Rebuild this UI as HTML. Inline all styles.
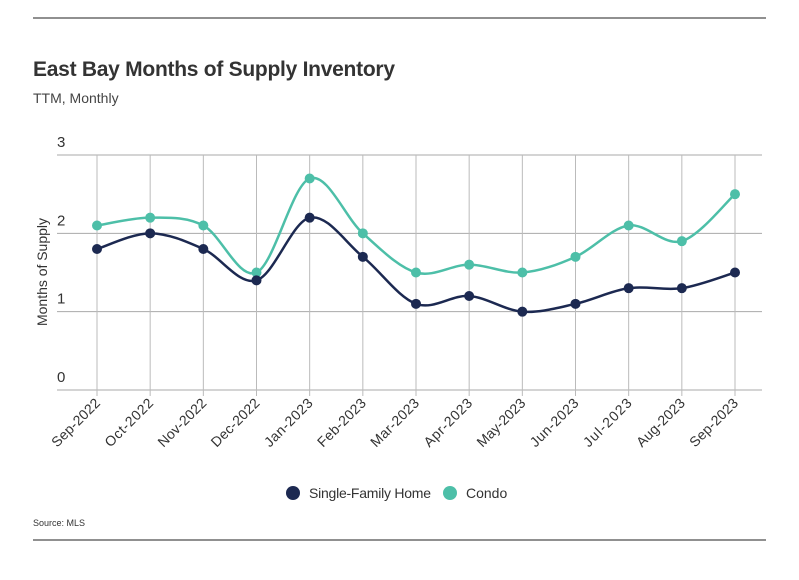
<!DOCTYPE html>
<html><head><meta charset="utf-8"><style>
body{margin:0;background:#fff;width:799px;height:575px;overflow:hidden;font-family:"Liberation Sans",sans-serif}
svg text{font-family:"Liberation Sans",sans-serif}
</style></head><body>
<svg id="c" width="799" height="575">
<line x1="33" y1="18" x2="766" y2="18" stroke="#222" stroke-width="1"/>
<line x1="33" y1="540" x2="766" y2="540" stroke="#222" stroke-width="1"/>
<text x="33" y="76" font-size="21" font-weight="bold" fill="#333" textLength="362">East Bay Months of Supply Inventory</text>
<text x="33" y="103" font-size="14" fill="#444">TTM, Monthly</text>
<text transform="translate(47,272) rotate(-90)" text-anchor="middle" font-size="14" fill="#333" textLength="108">Months of Supply</text>
<g id="grid"></g><g id="lines"></g>
<circle cx="293" cy="493" r="7" fill="#1c2951"/>
<text x="309" y="498" font-size="14" fill="#333" textLength="122">Single-Family Home</text>
<circle cx="450" cy="493" r="7" fill="#4dbfa8"/>
<text x="466" y="498" font-size="14" fill="#333">Condo</text>
<text x="33" y="526" font-size="9" fill="#333">Source:  MLS</text>
</svg>
<script>
const categories=["Sep-2022","Oct-2022","Nov-2022","Dec-2022","Jan-2023","Feb-2023","Mar-2023","Apr-2023","May-2023","Jun-2023","Jul-2023","Aug-2023","Sep-2023"];
const sfhValues=[1.8,2.0,1.8,1.4,2.2,1.7,1.1,1.2,1.0,1.1,1.3,1.3,1.5];
const condoValues=[2.1,2.2,2.1,1.5,2.7,2.0,1.5,1.6,1.5,1.7,2.1,1.9,2.5];
const yTicks=[0,1,2,3];
const NS="http://www.w3.org/2000/svg";
const xs=i=>97+i*(735-97)/(categories.length-1);
const ys=v=>390-v*(390-155)/3;
function mk(t,a,p){const e=document.createElementNS(NS,t);for(const k in a)e.setAttribute(k,a[k]);p.appendChild(e);return e;}
const g=document.getElementById('grid'),L=document.getElementById('lines');
yTicks.forEach(v=>{
 const l=mk('line',{x1:57,x2:762,y1:ys(v),y2:ys(v),stroke:'#aaa','stroke-width':1},g);
 
 
 const t=mk('text',{x:57,y:ys(v)-8,'font-size':15,fill:'#333'},g);t.textContent=v;
 
 
});
categories.forEach((c,i)=>{
 const l=mk('line',{x1:xs(i),x2:xs(i),y1:155,y2:396,stroke:'#bbb','stroke-width':1},g);
 
 
 const t=mk('text',{transform:`translate(${xs(i)+4},${404}) rotate(-45)`,'text-anchor':'end','font-size':14,fill:'#333',textLength:62},g);t.textContent=c;
 
 
});
function path(vals){
 const p=vals.map((v,i)=>[xs(i),ys(v)]);let d=`M${p[0][0]},${p[0][1]}`;
 for(let i=0;i<p.length-1;i++){const p0=p[Math.max(0,i-1)],p1=p[i],p2=p[i+1],p3=p[Math.min(p.length-1,i+2)];
  const k=1/6;d+=`C${p1[0]+(p2[0]-p0[0])*k},${p1[1]+(p2[1]-p0[1])*k} ${p2[0]-(p3[0]-p1[0])*k},${p2[1]-(p3[1]-p1[1])*k} ${p2[0]},${p2[1]}`;}
 return d;
}
[[condoValues,'#4dbfa8','condo'],[sfhValues,'#1c2951','sfh']].forEach(([vals,col,n])=>{
 const pa=mk('path',{d:path(vals),fill:'none',stroke:col,'stroke-width':2.5},L);
 
 
 vals.forEach((v,i)=>{const c=mk('circle',{cx:xs(i),cy:ys(v),r:5,fill:col},L);
  
  });
});
</script>
</body></html>
